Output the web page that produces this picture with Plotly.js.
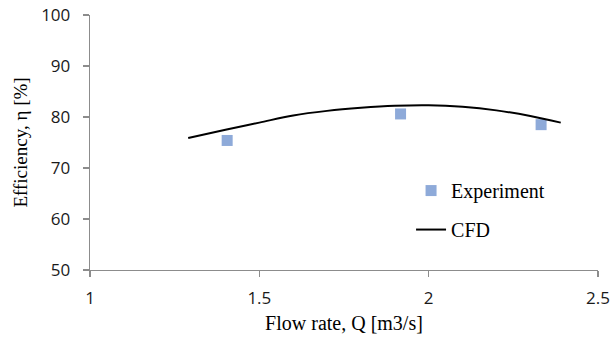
<!DOCTYPE html>
<html>
<head>
<meta charset="utf-8">
<script src="https://cdn.plot.ly/plotly-3.0.1.min.js"></script>
<style>html,body{margin:0;padding:0;background:#fff;}#chart{width:613px;height:341px;}</style>
</head>
<body>
<div id="chart"></div>
<script>
// Experiment data
const expQ = [1.405, 1.917, 2.332];
const expEff = [75.4, 80.6, 78.5];
// CFD curve
const cfdQ = [1.29, 1.40, 1.50, 1.60, 1.70, 1.80, 1.90, 2.00, 2.10, 2.20, 2.30, 2.39];
const cfdEff = [75.9, 77.5, 78.9, 80.3, 81.2, 81.8, 82.2, 82.3, 82.0, 81.3, 80.2, 78.9];
const xTicks = [1, 1.5, 2, 2.5];
const xTickText = ['1', '1.5', '2', '2.5'];
const yTicks = [50, 60, 70, 80, 90, 100];

const serif = 'Liberation Serif, Times New Roman, serif';
const sans = 'Open Sans, Liberation Sans, sans-serif';

const traces = [
  {x: expQ, y: expEff, name: 'Experiment', type: 'scatter', mode: 'markers',
   legendgroup: 'a',
   marker: {symbol: 'square', size: 11, color: '#8eaad9'}},
  {x: cfdQ, y: cfdEff, name: 'CFD', type: 'scatter', mode: 'lines',
   legendgroup: 'b',
   line: {color: '#000000', width: 2, shape: 'spline'}}
];

const axisCommon = {
  showgrid: false, zeroline: false, showline: true,
  linecolor: '#8c8c8c', linewidth: 1.3,
  ticks: 'outside', ticklen: 6, tickcolor: '#8c8c8c', tickwidth: 1.3,
  tickfont: {family: sans, size: 17, color: '#1a1a1a'}
};

const layout = {
  width: 613, height: 341,
  margin: {l: 90, r: 15, t: 15, b: 71},
  paper_bgcolor: '#ffffff', plot_bgcolor: '#ffffff',
  showlegend: true,
  legend: {x: 0.632, y: 0.388, xanchor: 'left', yanchor: 'top',
    traceorder: 'grouped', tracegroupgap: 10,
    font: {family: serif, size: 20, color: '#000'}, bgcolor: 'rgba(0,0,0,0)'},
  xaxis: Object.assign({}, axisCommon, {
    range: [1, 2.5], tickvals: xTicks, ticktext: xTickText,
    ticklabelstandoff: 6,
    title: {text: 'Flow rate, Q [m3/s]', font: {family: serif, size: 20, color: '#000'}, standoff: 8}
  }),
  yaxis: Object.assign({}, axisCommon, {
    range: [50, 100], tickvals: yTicks,
    ticklabelstandoff: 9,
    title: {text: 'Efficiency, η [%]', font: {family: serif, size: 19, color: '#000'}, standoff: 8}
  })
};

Plotly.newPlot('chart', traces, layout, {displayModeBar: false, staticPlot: true});
</script>
</body>
</html>
